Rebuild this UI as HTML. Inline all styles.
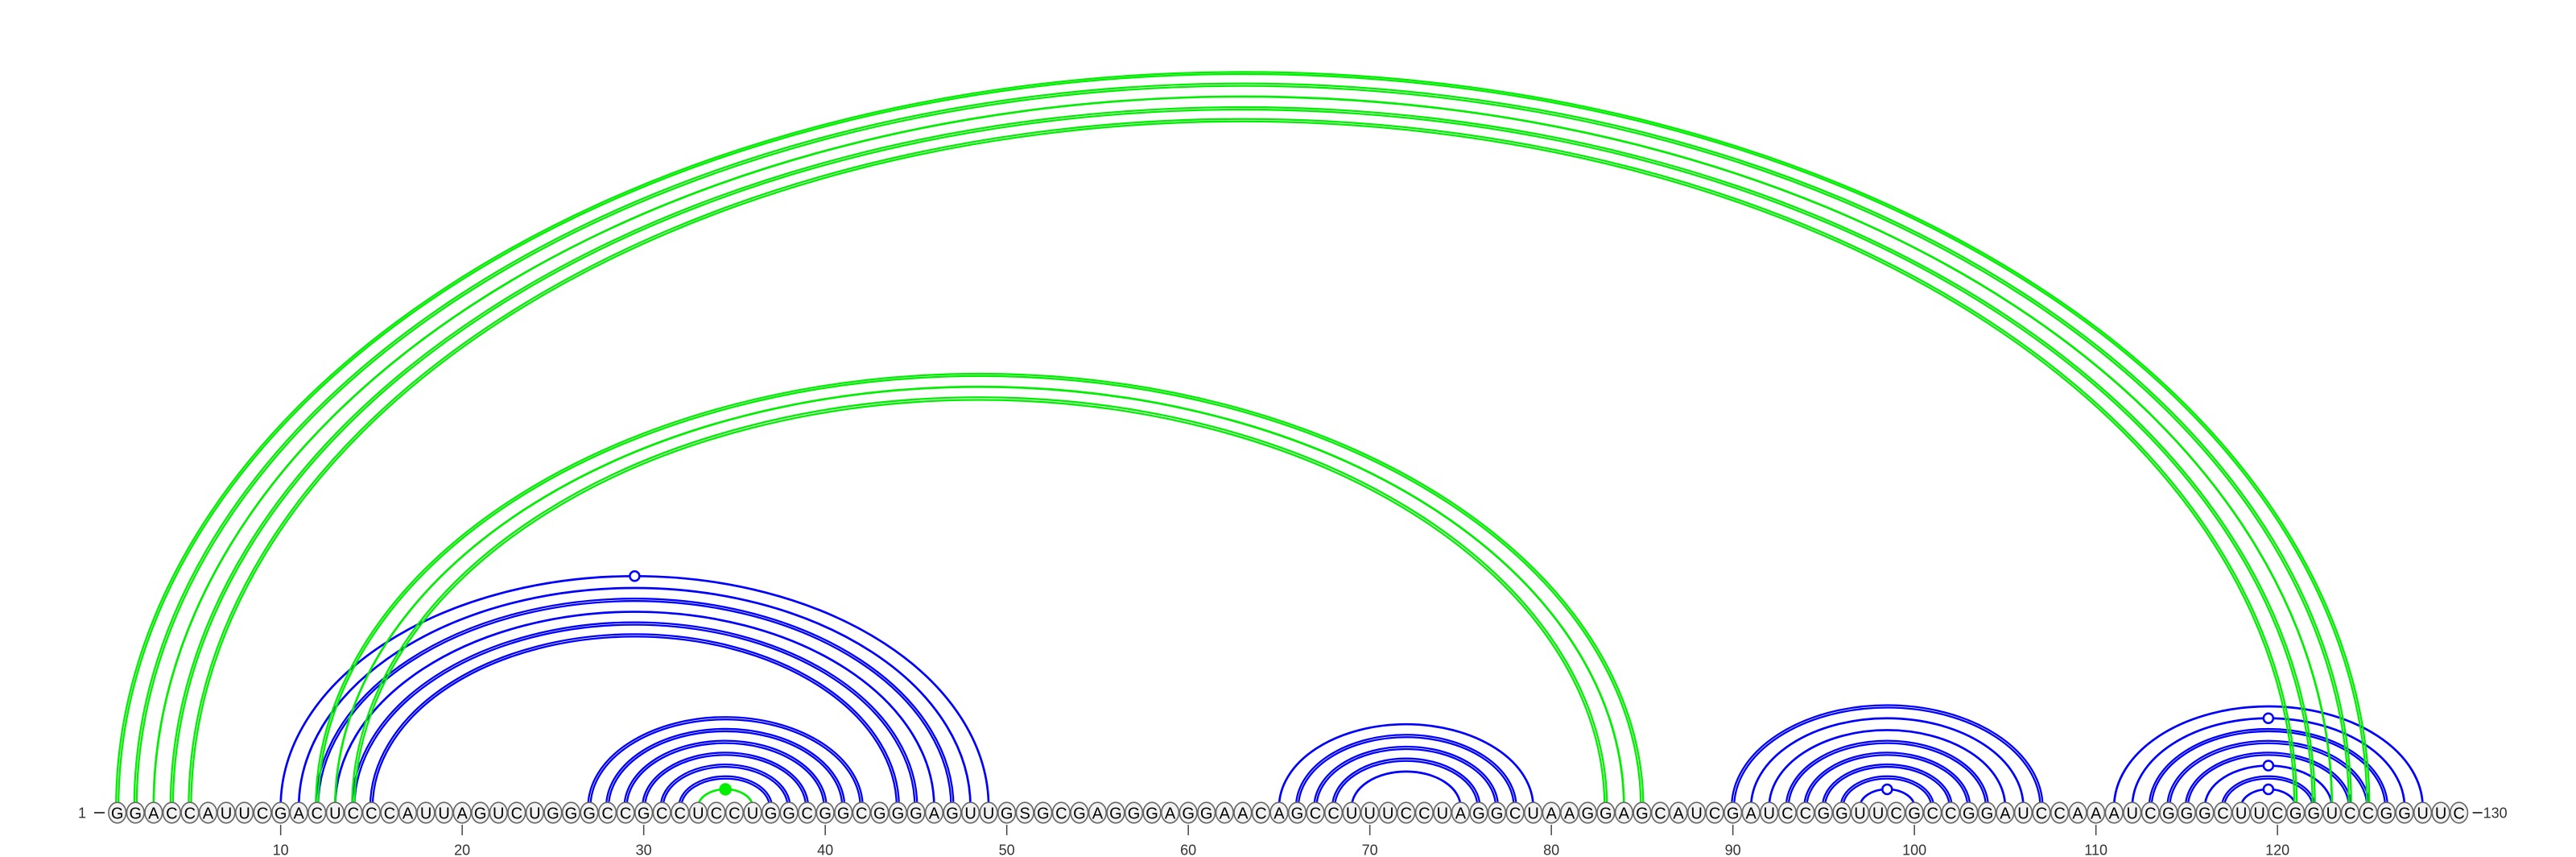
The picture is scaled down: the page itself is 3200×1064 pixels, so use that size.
<!DOCTYPE html>
<html><head><meta charset="utf-8"><style>
html,body{margin:0;padding:0;background:#fff;}
svg{display:block;}
</style></head><body>
<svg id="chart" width="3200" height="1064" viewBox="0 0 3200 1064" xmlns="http://www.w3.org/2000/svg">
<g id="arcs"></g>
<g id="nodes"></g>
<g id="axis"></g>
</svg>
<script>
const sequence = "GGACCAUUCGACUCCCAUUAGUCUGGGCCGCCUCCUGGCGGCGGGAGUUGSGCGAGGGAGGAACAGCCUUUCCUAGGCUAAGGAGCAUCGAUCCGGUUCGCCGGAUCCAAAUCGGGCUUCGGUCCGGUUC";
const bluePairs = [[10,49],[11,48],[12,47],[13,46],[14,45],[15,44],[27,42],[28,41],[29,40],[30,39],[31,38],[32,37],[65,79],[66,78],[67,77],[68,76],[69,75],[90,107],[91,106],[92,105],[93,104],[94,103],[95,102],[96,101],[97,100],[111,128],[112,127],[113,126],[114,125],[115,124],[116,123],[117,122],[118,121]];
const blueDouble = [0,0,1,0,1,1,1,1,1,1,1,1,0,1,1,1,0,1,0,0,1,1,1,1,0,0,0,1,1,1,0,1,0];
const blueMarker = [1,0,0,0,0,0,0,0,0,0,0,0,0,0,0,0,0,0,0,0,0,0,0,0,1,0,1,0,0,0,1,0,1];
const greenPairs = [[1,125],[2,124],[3,123],[4,122],[5,121],[12,85],[13,84],[14,83],[33,36]];
const greenDouble = [1,1,0,1,1,1,0,1,0];
const greenMarker = [0,0,0,0,0,0,0,0,1];
const tickLabels = [10,20,30,40,50,60,70,80,90,100,110,120];

const NS="http://www.w3.org/2000/svg";
const X0=145.7, DX=22.55, BASE=1002, NY=1009, K=0.652;
const xPos = i => X0 + (i-1)*DX;
function mk(tag, attrs, parent){const e=document.createElementNS(NS,tag);for(const k in attrs)e.setAttribute(k,attrs[k]);parent.appendChild(e);return e;}
const arcs=document.getElementById('arcs'), nodes=document.getElementById('nodes'), axis=document.getElementById('axis');

function drawArc(p, dbl, marker, color, name){
  const x1=xPos(p[0]), x2=xPos(p[1]); const rx=(x2-x1)/2; const ry=K*rx; const cx=(x1+x2)/2;
  const offs = dbl ? [-1.5,1.5] : [0];
  offs.forEach(d=>{
    const el=mk('path',{d:`M ${x1-d} ${BASE} A ${rx+d} ${ry+d} 0 0 1 ${x2+d} ${BASE}`,fill:'none',stroke:color,'stroke-width':dbl?2.3:2.7},arcs);
    
    
  });
  if(marker){
    const filled = color!=='#0000ff';
    const m=mk('circle',{cx:cx,cy:BASE-ry,r:filled?6.5:6,fill:filled?color:'#fff',stroke:color,'stroke-width':2.5},arcs);
    
    
  }
}
bluePairs.forEach((p,i)=>drawArc(p,blueDouble[i],blueMarker[i],'#0000ff','blue-arc'));
greenPairs.forEach((p,i)=>drawArc(p,greenDouble[i],greenMarker[i],'#00ee00','green-arc'));

for(let i=1;i<=sequence.length;i++){
  const g=mk('g',{},nodes);
  
  
  mk('ellipse',{cx:xPos(i),cy:NY,rx:10.8,ry:12.8,fill:'#f2f2f2',stroke:'#666','stroke-width':1.6},g);
  const t=mk('text',{x:xPos(i),y:NY+7.3,'text-anchor':'middle','font-family':'Liberation Sans, sans-serif','font-size':20,fill:'#000'},g);
  t.textContent=sequence[i-1];
}
let t=mk('text',{x:107,y:NY+6.5,'text-anchor':'end','font-family':'Liberation Sans, sans-serif','font-size':18,fill:'#333'},axis);
t.textContent='1';


mk('line',{x1:117,y1:NY,x2:130,y2:NY,stroke:'#444','stroke-width':2},axis);
const xe=xPos(sequence.length);
mk('line',{x1:xe+17,y1:NY,x2:xe+29,y2:NY,stroke:'#444','stroke-width':2},axis);
t=mk('text',{x:xe+30,y:NY+6.5,'font-family':'Liberation Sans, sans-serif','font-size':18,fill:'#333'},axis);
t.textContent=String(sequence.length);


tickLabels.forEach(v=>{
  const x=xPos(v);
  const l=mk('line',{x1:x,y1:1024,x2:x,y2:1037,stroke:'#444','stroke-width':1.5},axis);
  
  
  const tt=mk('text',{x:x,y:1061.5,'text-anchor':'middle','font-family':'Liberation Sans, sans-serif','font-size':18,fill:'#333'},axis);
  tt.textContent=String(v);
  
  
});
</script>
</body></html>
